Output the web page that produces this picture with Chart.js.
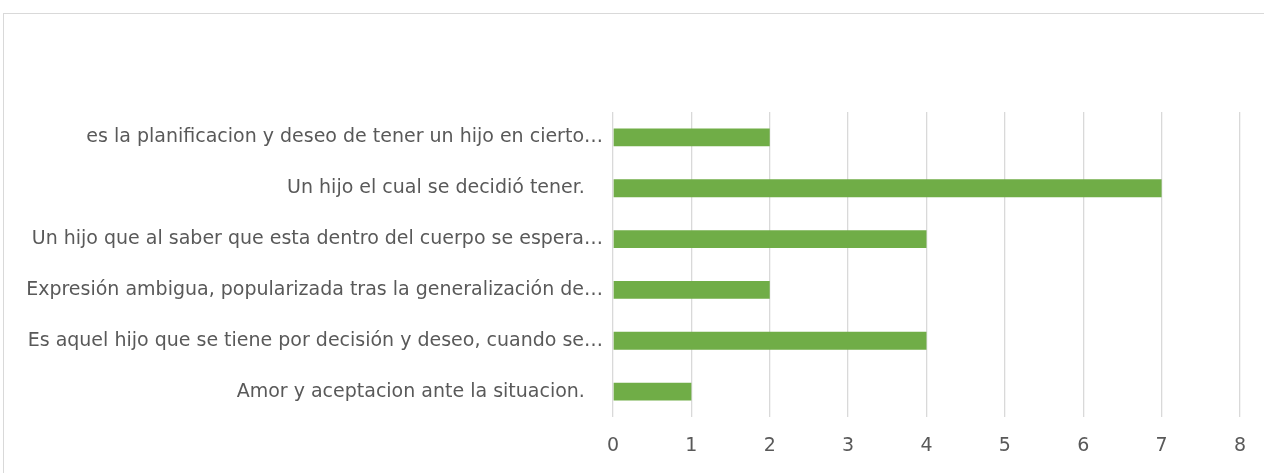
<!DOCTYPE html>
<html>
<head>
<meta charset="utf-8">
<script src="https://cdn.jsdelivr.net/npm/chart.js@4.4.0/dist/chart.umd.min.js"></script>
<style>
  html, body { margin: 0; padding: 0; background: #fff; overflow: hidden; }
  #frame {
    position: absolute; left: 3px; top: 13px; width: 1300px; height: 520px;
    border: 1px solid #d9d9d9; box-sizing: border-box;
  }
  #wrap { position: absolute; left: 0; top: 0; width: 1264px; height: 473px; }
</style>
</head>
<body>
<div id="frame"></div>
<div id="wrap"><canvas id="barChart"></canvas></div>
<script>
// Categorias (de arriba hacia abajo) y respuestas
const categorias = [
    'es la planificacion y deseo de tener un hijo en cierto…',
    'Un hijo el cual se decidió tener.   ',
    'Un hijo que al saber que esta dentro del cuerpo se espera…',
    'Expresión ambigua, popularizada tras la generalización de…',
    'Es aquel hijo que se tiene por decisión y deseo, cuando se…',
    'Amor y aceptacion ante la situacion.   '
];
const valores = [2, 7, 4, 2, 4, 1];
const ejeMin = 0;
const ejeMax = 8;

const textColor = '#595959';
const gridColor = '#d9d9d9';
const fontFamily = '"DejaVu Sans", sans-serif';

const ctxBar = document.getElementById('barChart').getContext('2d');
const barChart = new Chart(ctxBar, {
    type: 'bar',
    data: {
        labels: categorias,
        datasets: [{
            label: 'Respuestas',
            data: valores,
            backgroundColor: '#70ad47',
            borderWidth: 0,
            categoryPercentage: 1,
            barPercentage: 0.35
        }]
    },
    options: {
        indexAxis: 'y',
        responsive: true,
        maintainAspectRatio: false,
        animation: false,
        layout: {
            padding: { left: 0, right: 22, top: 112, bottom: 0 }
        },
        plugins: {
            legend: { display: false },
            tooltip: { enabled: false }
        },
        scales: {
            x: {
                min: ejeMin,
                max: ejeMax,
                ticks: {
                    stepSize: 1,
                    color: textColor,
                    font: { family: fontFamily, size: 19 },
                    padding: 18
                },
                grid: { color: gridColor, lineWidth: 1.3, drawTicks: false },
                border: { display: false },
                afterFit: function (scale) { scale.height = 56; }
            },
            y: {
                ticks: {
                    color: textColor,
                    font: { family: fontFamily, size: 19 },
                    padding: 10
                },
                grid: { display: false, drawTicks: false },
                border: { display: false },
                afterFit: function (scale) { scale.width = 613; }
            }
        }
    }
});
</script>
</body>
</html>
